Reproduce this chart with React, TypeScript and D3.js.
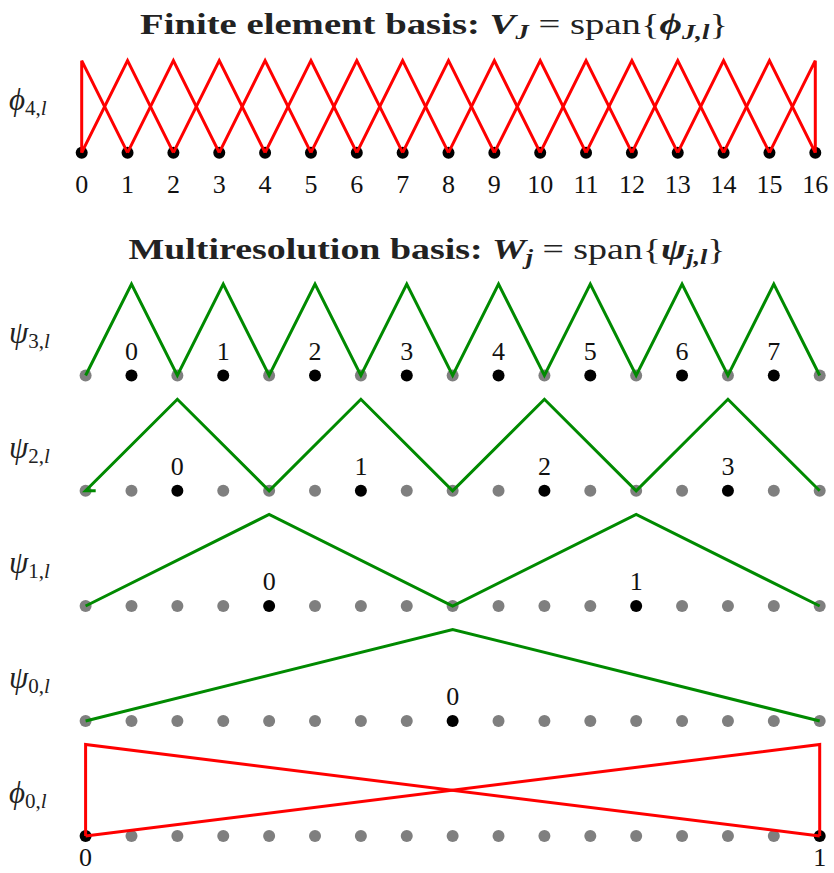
import React from "react";
import * as d3 from "d3";

// ---------- data ----------
const topNodes = [0, 1, 2, 3, 4, 5, 6, 7, 8, 9, 10, 11, 12, 13, 14, 15, 16];
const topTickLabels = ["0", "1", "2", "3", "4", "5", "6", "7", "8", "9", "10", "11", "12", "13", "14", "15", "16"];
// phi_{4,l} hats: each hat = [left node, peak node, right node]
const phi4Left = [0, 0, 1, 2, 3, 4, 5, 6, 7, 8, 9, 10, 11, 12, 13, 14, 15];
const phi4Peak = [0, 1, 2, 3, 4, 5, 6, 7, 8, 9, 10, 11, 12, 13, 14, 15, 16];
const phi4Right = [1, 2, 3, 4, 5, 6, 7, 8, 9, 10, 11, 12, 13, 14, 15, 16, 16];

const psi3X = [0, 1, 2, 3, 4, 5, 6, 7, 8, 9, 10, 11, 12, 13, 14, 15, 16];
const psi3Y = [0, 1, 0, 1, 0, 1, 0, 1, 0, 1, 0, 1, 0, 1, 0, 1, 0];
const psi3Black = [1, 3, 5, 7, 9, 11, 13, 15];
const psi3Labels = ["0", "1", "2", "3", "4", "5", "6", "7"];

const psi2X = [0.22, 0, 2, 4, 6, 8, 10, 12, 14, 16];
const psi2Y = [0, 0, 1, 0, 1, 0, 1, 0, 1, 0];
const psi2Black = [2, 6, 10, 14];
const psi2Labels = ["0", "1", "2", "3"];

const psi1X = [0, 4, 8, 12, 16];
const psi1Y = [0, 1, 0, 1, 0];
const psi1Black = [4, 12];
const psi1Labels = ["0", "1"];

const psi0X = [0, 8, 16];
const psi0Y = [0, 1, 0];
const psi0Black = [8];
const psi0Labels = ["0"];

const phi0aX = [0, 0, 16];
const phi0aY = [0, 1, 0];
const phi0bX = [0, 16, 16];
const phi0bY = [0, 1, 0];
const phi0Black = [0, 16];
const phi0Labels = ["0", "1"];

// ---------- layout ----------
const W = 834;
const H = 873;
const RED = "#ff0000";
const GREEN = "#008a00";
const GRAY = "#7f7f7f";
const FONT = "'Liberation Serif', 'DejaVu Serif', serif";
const PHI = "\u03D5";

const xTop = d3.scaleLinear().domain([0, 16]).range([81.7, 815.3]);
const xBot = d3.scaleLinear().domain([0, 16]).range([85.6, 819.7]);
const rowY = (base: number) => d3.scaleLinear().domain([0, 1]).range([base, base - 91.5]);

const yTop = d3.scaleLinear().domain([0, 1]).range([152.7, 60.7]);

type Row = {
  base: number;
  xs: number[];
  ys: number[];
  black: number[];
  labels: string[];
  greek: string;
  sub: string;
};

const rows: Row[] = [
  { base: 375.5, xs: psi3X, ys: psi3Y, black: psi3Black, labels: psi3Labels, greek: "ψ", sub: "3" },
  { base: 490.8, xs: psi2X, ys: psi2Y, black: psi2Black, labels: psi2Labels, greek: "ψ", sub: "2" },
  { base: 606, xs: psi1X, ys: psi1Y, black: psi1Black, labels: psi1Labels, greek: "ψ", sub: "1" },
  { base: 721, xs: psi0X, ys: psi0Y, black: psi0Black, labels: psi0Labels, greek: "ψ", sub: "0" },
];

function RowLabel({ y, greek, sub }: { y: number; greek: string; sub: string }) {
  return (
    <text x={9} y={y} fontFamily={FONT} fontSize={31} fill="#222">
      <tspan fontStyle="italic">{greek}</tspan>
      <tspan fontSize={21} dy={5}>{sub},</tspan>
      <tspan fontSize={21} fontStyle="italic">l</tspan>
    </text>
  );
}

export default function App() {
  const line = d3.line<[number, number]>();
  const phi0Base = 836;
  const yPhi0 = rowY(phi0Base);

  return (
    <svg width={W} height={H} style={{ position: "absolute", left: 0, top: 0, background: "#fff" }}>
      <rect width={W} height={H} fill="#fff" />
      {/* Title 1 */}
      <text x={434} y={34} textAnchor="middle" fontFamily={FONT} fontSize={29} fontWeight="bold" fill="#222"
        textLength={588} lengthAdjust="spacingAndGlyphs">
        <tspan>Finite element basis: </tspan>
        <tspan fontStyle="italic">V</tspan>
        <tspan fontStyle="italic" fontSize={20} dy={5}>J</tspan>
        <tspan fontWeight="normal" dy={-5}> = span{"{"}</tspan>
        <tspan fontStyle="italic">{PHI}</tspan>
        <tspan fontStyle="italic" fontSize={20} dy={5}>J,l</tspan>
        <tspan fontWeight="normal" dy={-5}>{"}"}</tspan>
      </text>

      {/* Top row */}
      <RowLabel y={110} greek={PHI} sub="4" />
      {topNodes.map((n) => (
        <circle key={"td" + n} cx={xTop(n)} cy={yTop(0)} r={6} fill="#000" />
      ))}
      {phi4Peak.map((p, i) => (
        <path key={"h" + i}
          d={line([[xTop(phi4Left[i]), yTop(0)], [xTop(p), yTop(1)], [xTop(phi4Right[i]), yTop(0)]]) || ""}
          fill="none" stroke={RED} strokeWidth={3} strokeLinejoin="miter" />
      ))}
      {topNodes.map((n, i) => (
        <text key={"tl" + n} x={xTop(n)} y={193} textAnchor="middle" fontFamily={FONT} fontSize={26} fill="#111">
          {topTickLabels[i]}
        </text>
      ))}

      {/* Title 2 */}
      <text x={427} y={259} textAnchor="middle" fontFamily={FONT} fontSize={29} fontWeight="bold" fill="#222"
        textLength={597} lengthAdjust="spacingAndGlyphs">
        <tspan>Multiresolution basis: </tspan>
        <tspan fontStyle="italic">W</tspan>
        <tspan fontStyle="italic" fontSize={20} dy={5}>j</tspan>
        <tspan fontWeight="normal" dy={-5}> = span{"{"}</tspan>
        <tspan fontStyle="italic">ψ</tspan>
        <tspan fontStyle="italic" fontSize={20} dy={5}>j,l</tspan>
        <tspan fontWeight="normal" dy={-5}>{"}"}</tspan>
      </text>

      {rows.map((r, ri) => {
        const y = rowY(r.base);
        const pts: [number, number][] = r.xs.map((xv, i) => [xBot(xv), y(r.ys[i])]);
        return (
          <g key={"row" + ri}>
            <RowLabel y={r.base - 33} greek={r.greek} sub={r.sub} />
            {topNodes.map((n) => (
              <circle key={"d" + n} cx={xBot(n)} cy={r.base} r={6}
                fill={r.black.includes(n) ? "#000" : GRAY} />
            ))}
            <path d={line(pts) || ""} fill="none" stroke={GREEN} strokeWidth={3} strokeLinejoin="miter" />
            {r.black.map((n, i) => (
              <text key={"nl" + n} x={xBot(n)} y={r.base - 16} textAnchor="middle" fontFamily={FONT} fontSize={26} fill="#111">
                {r.labels[i]}
              </text>
            ))}
          </g>
        );
      })}

      {/* phi_0 row */}
      <RowLabel y={phi0Base - 33} greek={PHI} sub="0" />
      {topNodes.map((n) => (
        <circle key={"bd" + n} cx={xBot(n)} cy={phi0Base} r={6}
          fill={phi0Black.includes(n) ? "#000" : GRAY} />
      ))}
      <path d={line(phi0aX.map((xv, i) => [xBot(xv), yPhi0(phi0aY[i])] as [number, number])) || ""}
        fill="none" stroke={RED} strokeWidth={3} />
      <path d={line(phi0bX.map((xv, i) => [xBot(xv), yPhi0(phi0bY[i])] as [number, number])) || ""}
        fill="none" stroke={RED} strokeWidth={3} />
      {phi0Black.map((n, i) => (
        <text key={"bl" + n} x={xBot(n)} y={866} textAnchor="middle" fontFamily={FONT} fontSize={26} fill="#111">
          {phi0Labels[i]}
        </text>
      ))}
    </svg>
  );
}
